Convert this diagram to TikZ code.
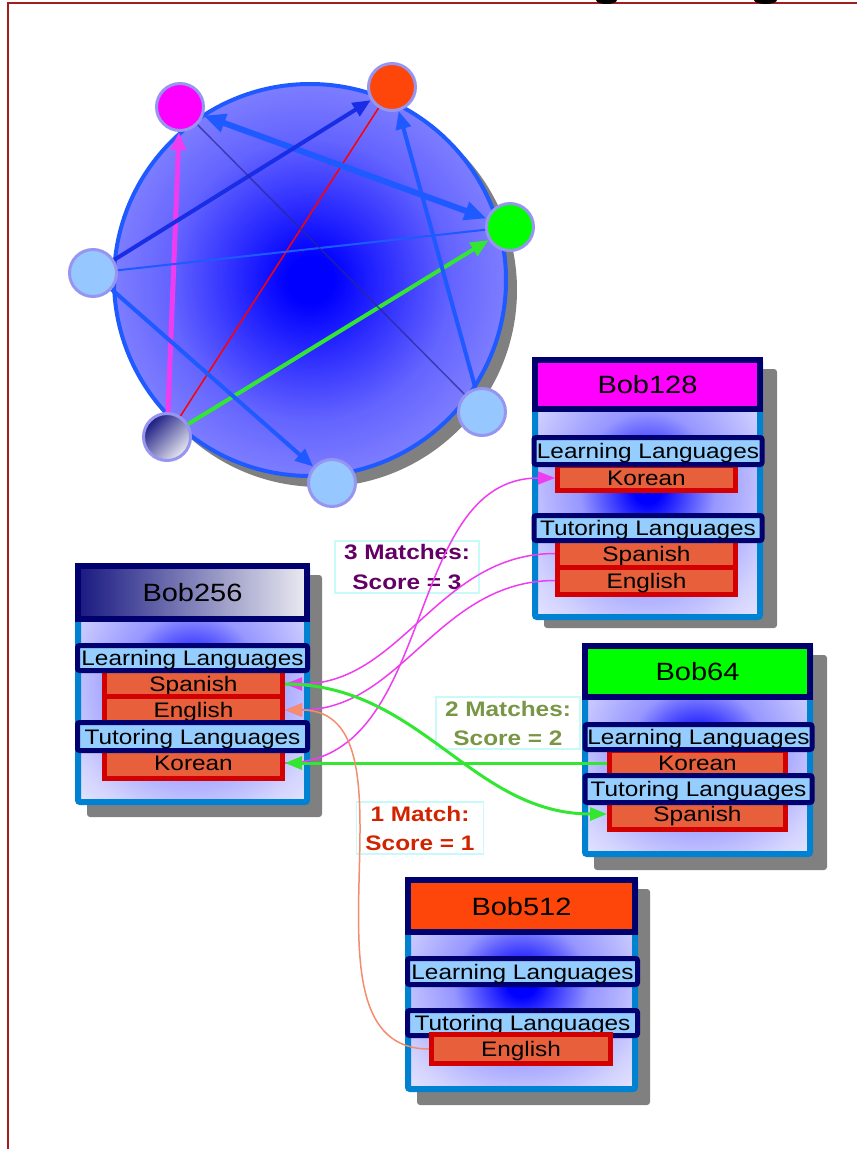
\documentclass[tikz,border=0pt]{standalone}
\usepackage{fontspec}
\setmainfont[FakeStretch=1.16]{Liberation Sans}
\usepackage{tikz}
\usetikzlibrary{arrows.meta}

\definecolor{hubblue}{RGB}{30,90,255}
\definecolor{deepblue}{RGB}{25,45,230}
\definecolor{hubpale}{RGB}{172,172,255}
\definecolor{hubmid}{RGB}{100,100,255}
\definecolor{panelmid}{RGB}{150,150,255}
\definecolor{panellite}{RGB}{210,210,255}
\definecolor{panelpale}{RGB}{235,235,255}
\definecolor{navybar}{RGB}{0,0,110}
\definecolor{barfill}{RGB}{150,205,255}
\definecolor{rowred}{RGB}{210,0,0}
\definecolor{rowfill}{RGB}{232,95,60}
\definecolor{panelrim}{RGB}{0,130,210}
\definecolor{nodelight}{RGB}{150,200,255}
\definecolor{noderim}{RGB}{150,150,240}
\definecolor{shadowgray}{RGB}{128,128,128}
\definecolor{pinkfill}{RGB}{255,0,255}
\definecolor{greenfill}{RGB}{0,255,0}
\definecolor{linkpink}{RGB}{240,60,240}
\definecolor{linkgreen}{RGB}{50,230,50}
\definecolor{linkorange}{RGB}{245,140,110}
\definecolor{framered}{RGB}{160,30,30}
\definecolor{scorepurple}{RGB}{100,0,100}
\definecolor{scoreolive}{RGB}{120,150,70}
\definecolor{scorered}{RGB}{210,35,0}
\definecolor{scorerim}{RGB}{200,250,250}
\definecolor{navyshade}{RGB}{25,25,130}
\definecolor{paleshade}{RGB}{235,235,242}
\definecolor{orangered}{RGB}{255,70,10}
\definecolor{thinnavy}{RGB}{40,40,150}
\definecolor{pureblue}{RGB}{0,0,255}

\pgfdeclareradialshading{hubglow}{\pgfpoint{0bp}{0bp}}{color(0bp)=(pureblue); color(3bp)=(pureblue); color(18bp)=(hubmid); color(38bp)=(hubpale); color(50bp)=(hubpale)}
\pgfdeclareradialshading{panelglow}{\pgfpoint{0bp}{0bp}}{color(0bp)=(pureblue); color(3bp)=(pureblue); color(15bp)=(panelmid); color(29bp)=(panellite); color(38bp)=(panelpale); color(50bp)=(panelpale)}

\begin{document}
\begin{tikzpicture}[x=1pt, y=-1pt,
        every node/.style={inner sep=0pt},
        member/.style={circle, draw=noderim, line width=3pt, minimum size=47pt, fill=nodelight},
        hublink/.style={line width=4pt, hubblue, -{Triangle[length=18pt, width=15pt]}},
        shadowbox/.style={fill=shadowgray, rounded corners=3pt},
        panel/.style={draw=panelrim, line width=6pt, rounded corners=2pt, shading=panelglow},
        header/.style={draw=navybar, line width=6pt, text height=18pt, text depth=0pt, font=\fontsize{25}{28}\selectfont},
        bar/.style={draw=navybar, line width=5pt, fill=barfill, rounded corners=2pt, text height=15pt, text depth=0pt, font=\fontsize{21}{24}\selectfont},
        lang/.style={draw=rowred, line width=5pt, fill=rowfill, text height=15pt, text depth=0pt, font=\fontsize{21}{24}\selectfont},
        score/.style={draw=scorerim, line width=1.5pt, align=center, inner xsep=9pt, inner ysep=4pt, font=\bfseries\fontsize{21}{29}\selectfont},
        match/.style={line width=1.5pt, -{Triangle[length=17pt, width=13pt]}}]
    \useasboundingbox (0, 0) rectangle (857, 1149);

    % the ring of learners
    \fill[shadowgray] (320, 290) circle[radius=197];
    \draw[hubblue, line width=4pt, shading=hubglow] (310, 280) circle[radius=196];
    \draw (180, 107) node[member, fill=pinkfill](mag){};
    \draw (392, 87) node[member, fill=orangered](org){};
    \draw (510, 227) node[member, fill=greenfill](grn){};
    \draw (93, 273) node[member](lbl){};
    \draw (482, 412) node[member](lbr){};
    \draw (332, 483) node[member](lbb){};
    \draw (167, 437) node[member, top color=navyshade, bottom color=paleshade, shading angle=45](me){};
    \draw[hublink, linkpink, line width=5pt] (me) -- (mag);
    \draw[red, line width=1.5pt] (me) -- (org);
    \draw[hublink, linkgreen] (me) -- (grn);
    \draw[hublink, line width=6pt, {Triangle[length=22pt, width=18pt]}-{Triangle[length=22pt, width=18pt]}] (mag) -- (grn);
    \draw[hublink, deepblue] (lbl) -- (org);
    \draw[hubblue, line width=2pt] (lbl) -- (grn);
    \draw[hublink] (lbl) -- (lbb);
    \draw[thinnavy, line width=1.5pt, opacity=0.7] (mag) -- (lbr);
    \draw[hublink] (lbr) -- (org);

    % Bob128
    \fill[shadowbox] (544, 369) rectangle (777, 628);
    \draw[panel] (535, 360) rectangle (760, 617);
    \draw (647.5, 384.5) node[header, fill=pinkfill, minimum width=225pt, minimum height=49pt](bob128){Bob128};
    \draw (646.5, 478) node[lang, minimum width=178pt, minimum height=25pt](kor128){Korean};
    \draw (646.5, 553.5) node[lang, minimum width=178pt, minimum height=27pt](spa128){Spanish};
    \draw (646.5, 580.5) node[lang, minimum width=178pt, minimum height=27pt](eng128){English};
    \draw (648, 451) node[bar, minimum width=228pt, minimum height=27pt](learn128){Learning Languages};
    \draw (648, 528) node[bar, minimum width=228pt, minimum height=25pt](tutor128){Tutoring Languages};

    % Bob256
    \fill[shadowbox] (87, 575) rectangle (322, 817);
    \draw[panel] (78, 566) rectangle (307, 802);
    \draw (192.5, 592.5) node[header, left color=navyshade, right color=paleshade, minimum width=229pt, minimum height=53pt](bob256){Bob256};
    \draw (193.5, 684) node[lang, minimum width=178pt, minimum height=27pt](spa256){Spanish};
    \draw (193.5, 710) node[lang, minimum width=178pt, minimum height=27pt](eng256){English};
    \draw (193.5, 763) node[lang, minimum width=178pt, minimum height=30pt](kor256){Korean};
    \draw (192.5, 658) node[bar, minimum width=230pt, minimum height=25pt](learn256){Learning Languages};
    \draw (192.5, 736.5) node[bar, minimum width=230pt, minimum height=28pt](tutor256){Tutoring Languages};

    % Bob64
    \fill[shadowbox] (594, 655) rectangle (827, 870);
    \draw[panel] (585, 646) rectangle (810, 854);
    \draw (697.5, 671.5) node[header, fill=greenfill, minimum width=225pt, minimum height=51pt](bob64){Bob64};
    \draw (697.5, 763) node[lang, minimum width=176pt, minimum height=26pt](kor64){Korean};
    \draw (697.5, 814) node[lang, minimum width=176pt, minimum height=30pt](spa64){Spanish};
    \draw (698.5, 737) node[bar, minimum width=227pt, minimum height=25pt](learn64){Learning Languages};
    \draw (698.5, 789) node[bar, minimum width=227pt, minimum height=27pt](tutor64){Tutoring Languages};

    % Bob512
    \fill[shadowbox] (417, 889) rectangle (650, 1105);
    \draw[panel] (408, 880) rectangle (635, 1089);
    \draw (521.5, 906) node[header, fill=orangered, minimum width=227pt, minimum height=52pt](bob512){Bob512};
    \draw (522.5, 971.5) node[bar, minimum width=230pt, minimum height=26pt](learn512){Learning Languages};
    \draw (522.5, 1023) node[bar, minimum width=230pt, minimum height=25pt](tutor512){Tutoring Languages};
    \draw (521, 1049) node[lang, minimum width=179pt, minimum height=29pt](eng512){English};

    % scores
    \draw (407, 567) node[score, text=scorepurple](score3){3 Matches:\\Score = 3};
    \draw (508, 723) node[score, text=scoreolive](score2){2 Matches:\\Score = 2};
    \draw (420, 828) node[score, text=scorered](score1){1 Match:\\Score = 1};

    % matches
    \draw[match, linkpink] (kor256.east) to[out=0, in=180] (kor128.west);
    \draw[match, linkpink] (spa128.west) to[out=180, in=0] (spa256.east);
    \draw[match, linkpink] (eng128.west) to[out=180, in=0] (eng256.east);
    \draw[match, linkgreen, line width=3pt] (spa256.east) to[out=0, in=180] (spa64.west);
    \draw[match, linkgreen, line width=3pt] (kor64.west) -- (kor256.east);
    \draw[match, linkorange] (eng512.west) to[out=180, in=0] (eng256.east);

    % frame
    \draw[framered, line width=2.5pt] (8, 1149) -- (8, 3) -- (857, 3);
    \fill (596, 0) arc[start angle=180, end angle=0, x radius=10.5, y radius=4] -- cycle;
    \fill (754, 0) arc[start angle=180, end angle=0, x radius=11.5, y radius=4] -- cycle;
\end{tikzpicture}
\end{document}
